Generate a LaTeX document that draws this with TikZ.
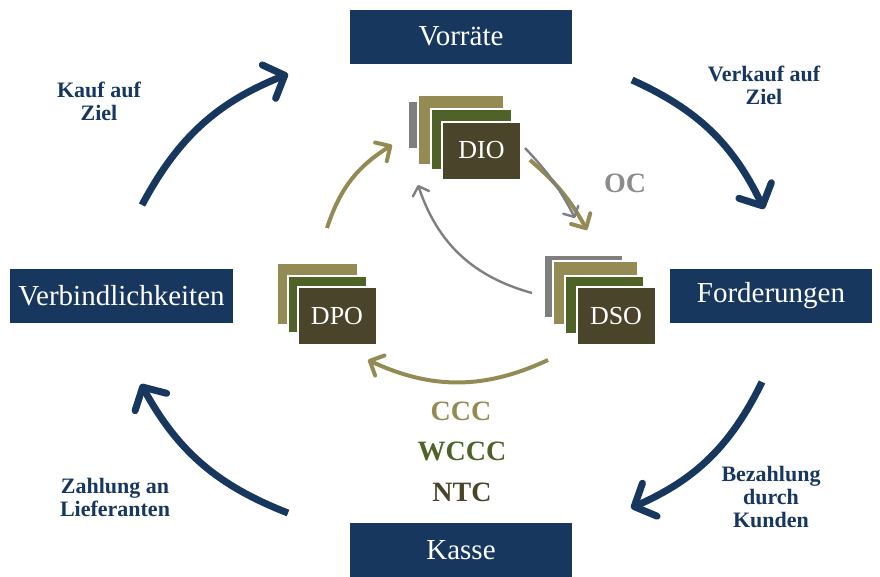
\documentclass[tikz,border=0pt]{standalone}
\usepackage{fontspec}
\setmainfont{Liberation Serif}
\usetikzlibrary{arrows.meta,positioning}

\definecolor{navy}{HTML}{17375E}
\definecolor{khaki}{HTML}{948A54}
\definecolor{olive}{HTML}{4F6228}
\definecolor{umber}{HTML}{4A452A}
\definecolor{ocgray}{HTML}{8C8C8C}
\definecolor{laygray}{HTML}{7F7F7F}

\tikzset{
	phase/.style={fill=navy, text=white, minimum width=222pt, minimum height=54pt,
		inner sep=0pt, font=\fontsize{29}{32}\selectfont},
	layer/.style={draw=white, line width=2pt},
	kpi/.style={layer, fill=umber, text=white, minimum width=79pt, minimum height=58pt,
		inner sep=0pt, font=\fontsize{26}{28}\selectfont},
	note/.style={text=navy, align=center, font=\bfseries\fontsize{22}{23}\selectfont},
	metric/.style={font=\bfseries\fontsize{28}{30}\selectfont},
	cycle/.style={draw=navy, line width=7pt, -{Straight Barb[length=17pt,width=36pt,round]}},
	inner/.style={draw=khaki, line width=4pt, -{Straight Barb[length=11pt,width=22pt,round]}},
	opcyc/.style={draw=laygray, line width=2.4pt, -{Straight Barb[length=8pt,width=17pt,round]}}
}

\begin{document}
\begin{tikzpicture}[x=1pt,y=1pt]
	\useasboundingbox (0,0) rectangle (880,-576);

	\node[phase] (vorraete) at (461,-36.5) {Vorräte};	%top
	\node[phase, minimum width=202pt] (forderungen) at (771,-295.5) {Forderungen};
	\node[phase] (kasse) at (461,-550) {Kasse};	%bottom
	\node[phase, minimum width=223pt] (verbindl) at (121.5,-295.5) {Verbindlichkeiten};

	\node[note] (kauf) at (99,-101) {Kauf auf\\Ziel};
	\node[note] (verkauf) at (764,-85) {Verkauf auf\\Ziel};
	\node[note] (bezahlung) at (771,-497) {Bezahlung\\durch\\Kunden};
	\node[note] (zahlung) at (115,-497) {Zahlung an\\Lieferanten};

	%DIO stack
	\filldraw[layer, fill=laygray] (408,-101) rectangle (470,-149);
	\filldraw[layer, fill=khaki] (418,-95) rectangle (504,-165);
	\filldraw[layer, fill=olive] (431,-109) rectangle (512,-170);
	\node[kpi] (dio) at (481.5,-150.5) {DIO};

	%DSO stack
	\filldraw[layer, fill=laygray] (544,-255) rectangle (623,-318);
	\filldraw[layer, fill=khaki] (553,-261) rectangle (638,-325);
	\filldraw[layer, fill=olive] (565,-276) rectangle (644,-334);
	\node[kpi] (dso) at (616,-316) {DSO};

	%DPO stack
	\filldraw[layer, fill=khaki] (277,-263) rectangle (358,-325);
	\filldraw[layer, fill=olive] (288,-276) rectangle (367,-333);
	\node[kpi] (dpo) at (337,-316) {DPO};

	\node[metric, text=ocgray] (oc) at (625,-183) {OC};
	\node[metric, text=khaki] (ccc) at (461,-411) {CCC};
	\node[metric, text=olive] (wccc) at (462,-451) {WCCC};
	\node[metric, text=umber] (ntc) at (462,-492) {NTC};

	%outer cycle
	\coordinate (kauf-a) at (142,-205);
	\coordinate (kauf-b) at (288,-74);
	\coordinate (verkauf-a) at (632,-80);
	\coordinate (verkauf-b) at (764,-209);
	\coordinate (bezahl-a) at (762,-382);
	\coordinate (bezahl-b) at (631,-508);
	\coordinate (zahl-a) at (288,-513);
	\coordinate (zahl-b) at (141,-384);
	\draw[cycle] (kauf-a) to[bend left=20] (kauf-b);
	\draw[cycle] (verkauf-a) to[bend left=20] (verkauf-b);
	\draw[cycle] (bezahl-a) to[bend left=20] (bezahl-b);
	\draw[cycle] (zahl-a) to[bend left=20] (zahl-b);

	%inner cycle
	\coordinate (dpo-a) at (327,-228);
	\coordinate (dpo-b) at (392,-145);
	\coordinate (dio-a) at (530,-160);
	\coordinate (dio-b) at (587,-230);
	\coordinate (dso-a) at (548,-360);
	\coordinate (dso-b) at (368,-360);
	\draw[inner] (dpo-a) to[bend left=20] (dpo-b);
	\draw[inner] (dio-a) to[bend left=10] (dio-b);
	\draw[inner] (dso-a) to[bend left=25] (dso-b);

	%operating cycle
	\coordinate (oc-a) at (525,-148);
	\coordinate (oc-b) at (575,-218);
	\coordinate (oc-c) at (532,-293);
	\coordinate (oc-d) at (418,-185);
	\draw[opcyc] (oc-a) to[bend left=8] (oc-b);
	\draw[opcyc] (oc-c) to[bend left=28] (oc-d);
\end{tikzpicture}
\end{document}
